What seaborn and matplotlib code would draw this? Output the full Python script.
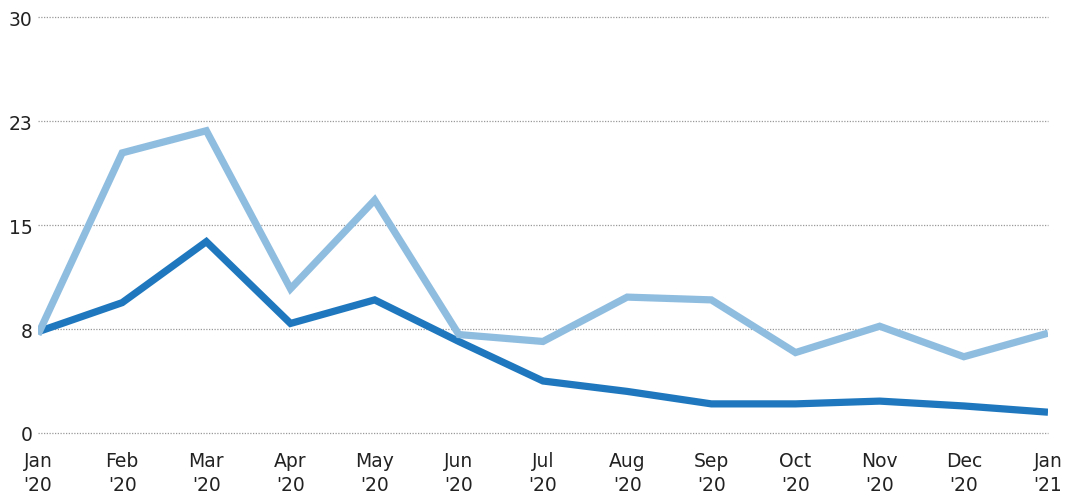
import numpy as np
import pandas as pd
import matplotlib
matplotlib.use('Agg')
import matplotlib.pyplot as plt
import seaborn as sns

# 数据
months = ["Jan\n'20", "Feb\n'20", "Mar\n'20", "Apr\n'20", "May\n'20", "Jun\n'20",
          "Jul\n'20", "Aug\n'20", "Sep\n'20", "Oct\n'20", "Nov\n'20", "Dec\n'20",
          "Jan\n'21"]
light_values = [7.1, 20.2, 21.8, 10.4, 16.8, 7.1, 6.6, 9.8, 9.6, 5.8, 7.7, 5.5, 7.2]
dark_values = [7.3, 9.4, 13.8, 7.9, 9.6, 6.6, 3.75, 3.0, 2.1, 2.1, 2.3, 1.95, 1.5]
y_ticks = [0, 7.5, 15, 22.5, 30]
y_tick_labels = ['0', '8', '15', '23', '30']

DARK = '#1f78be'
LIGHT = '#8fbde0'

sns.set_style('white')
plt.rcParams['font.family'] = ['DejaVu Sans']

df = pd.DataFrame({
    'x': list(range(len(months))) * 2,
    'value': dark_values + light_values,
    'series': ['dark'] * len(months) + ['light'] * len(months),
})

fig = plt.figure(figsize=(10.81, 5.02), dpi=100)
ax = fig.add_axes([38 / 1081, 68 / 502, 1010 / 1081, 416 / 502])

sns.lineplot(data=df, x='x', y='value', hue='series',
             palette={'dark': DARK, 'light': LIGHT},
             linewidth=5.2, legend=False, ax=ax,
             solid_capstyle='butt', solid_joinstyle='miter')

ax.set_xlim(0, 12)
ax.set_ylim(0, 30)
ax.set_xticks(range(len(months)))
ax.set_xticklabels(months, fontsize=13.5, color='#222222', linespacing=1.3)
ax.set_yticks(y_ticks)
ax.set_yticklabels(y_tick_labels, fontsize=13.5, color='#222222')
ax.tick_params(axis='x', length=0, pad=13)
ax.tick_params(axis='y', length=0, pad=4)
ax.set_xlabel('')
ax.set_ylabel('')

ax.yaxis.grid(True, color='#999999', linestyle=(0, (1, 1.2)), linewidth=0.9)
ax.xaxis.grid(False)
ax.set_axisbelow(True)
for gl in ax.get_ygridlines():
    gl.set_clip_on(False)
for s in ax.spines.values():
    s.set_visible(False)

fig.savefig('out.png', dpi=100, facecolor='white')
plt.close(fig)
